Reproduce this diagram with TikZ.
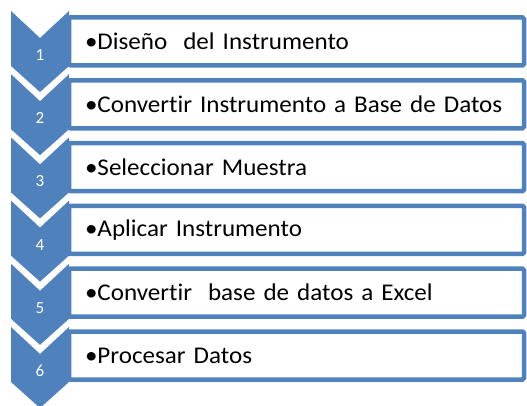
\documentclass[tikz,border=0pt]{standalone}
\usepackage{fontspec}
\setmainfont{Carlito}
\newfontfamily\boxfont{Carlito}[FakeStretch=1.045,Ligatures=NoCommon]
\definecolor{officeblue}{HTML}{4F81BD}

\begin{document}
\begin{tikzpicture}[
  x=1pt,y=-1pt,
  stepbox/.style={draw=officeblue,line width=4.5pt,rounded corners=1.5pt,fill=white,
    minimum width=455pt,minimum height=48pt,text width=423pt,inner xsep=16pt,
    outer sep=0pt,align=left,anchor=north west,
    font=\boxfont\fontsize{24}{26}\selectfont},
  stepnum/.style={text=white,font=\fontsize{17}{19}\selectfont,inner sep=0pt}
]
  \useasboundingbox (0,0) rectangle (527,406);

  % boxes
  \foreach \i/\txt in {1/{Diseño~~del Instrumento},
                       2/{Convertir Instrumento a Base de Datos},
                       3/{Seleccionar Muestra},
                       4/{Aplicar Instrumento},
                       5/{Convertir~~base de datos a Excel},
                       6/{Procesar Datos}}
    \node[stepbox] (box\i) at (69,{17.5+(\i-1)*62.8}) {•\txt};

  % chevrons
  \foreach \i in {1,...,6}{
    \pgfmathsetmacro{\yt}{11+(\i-1)*63.2}
    \fill[officeblue] (11,\yt) -- (40,\yt+27) -- (69,\yt) -- (69,\yt+55)
      -- (40,\yt+81) -- (11,\yt+55) -- cycle;
    \node[stepnum] (num\i) at (40,\yt+44) {\i};
  }
\end{tikzpicture}
\end{document}
